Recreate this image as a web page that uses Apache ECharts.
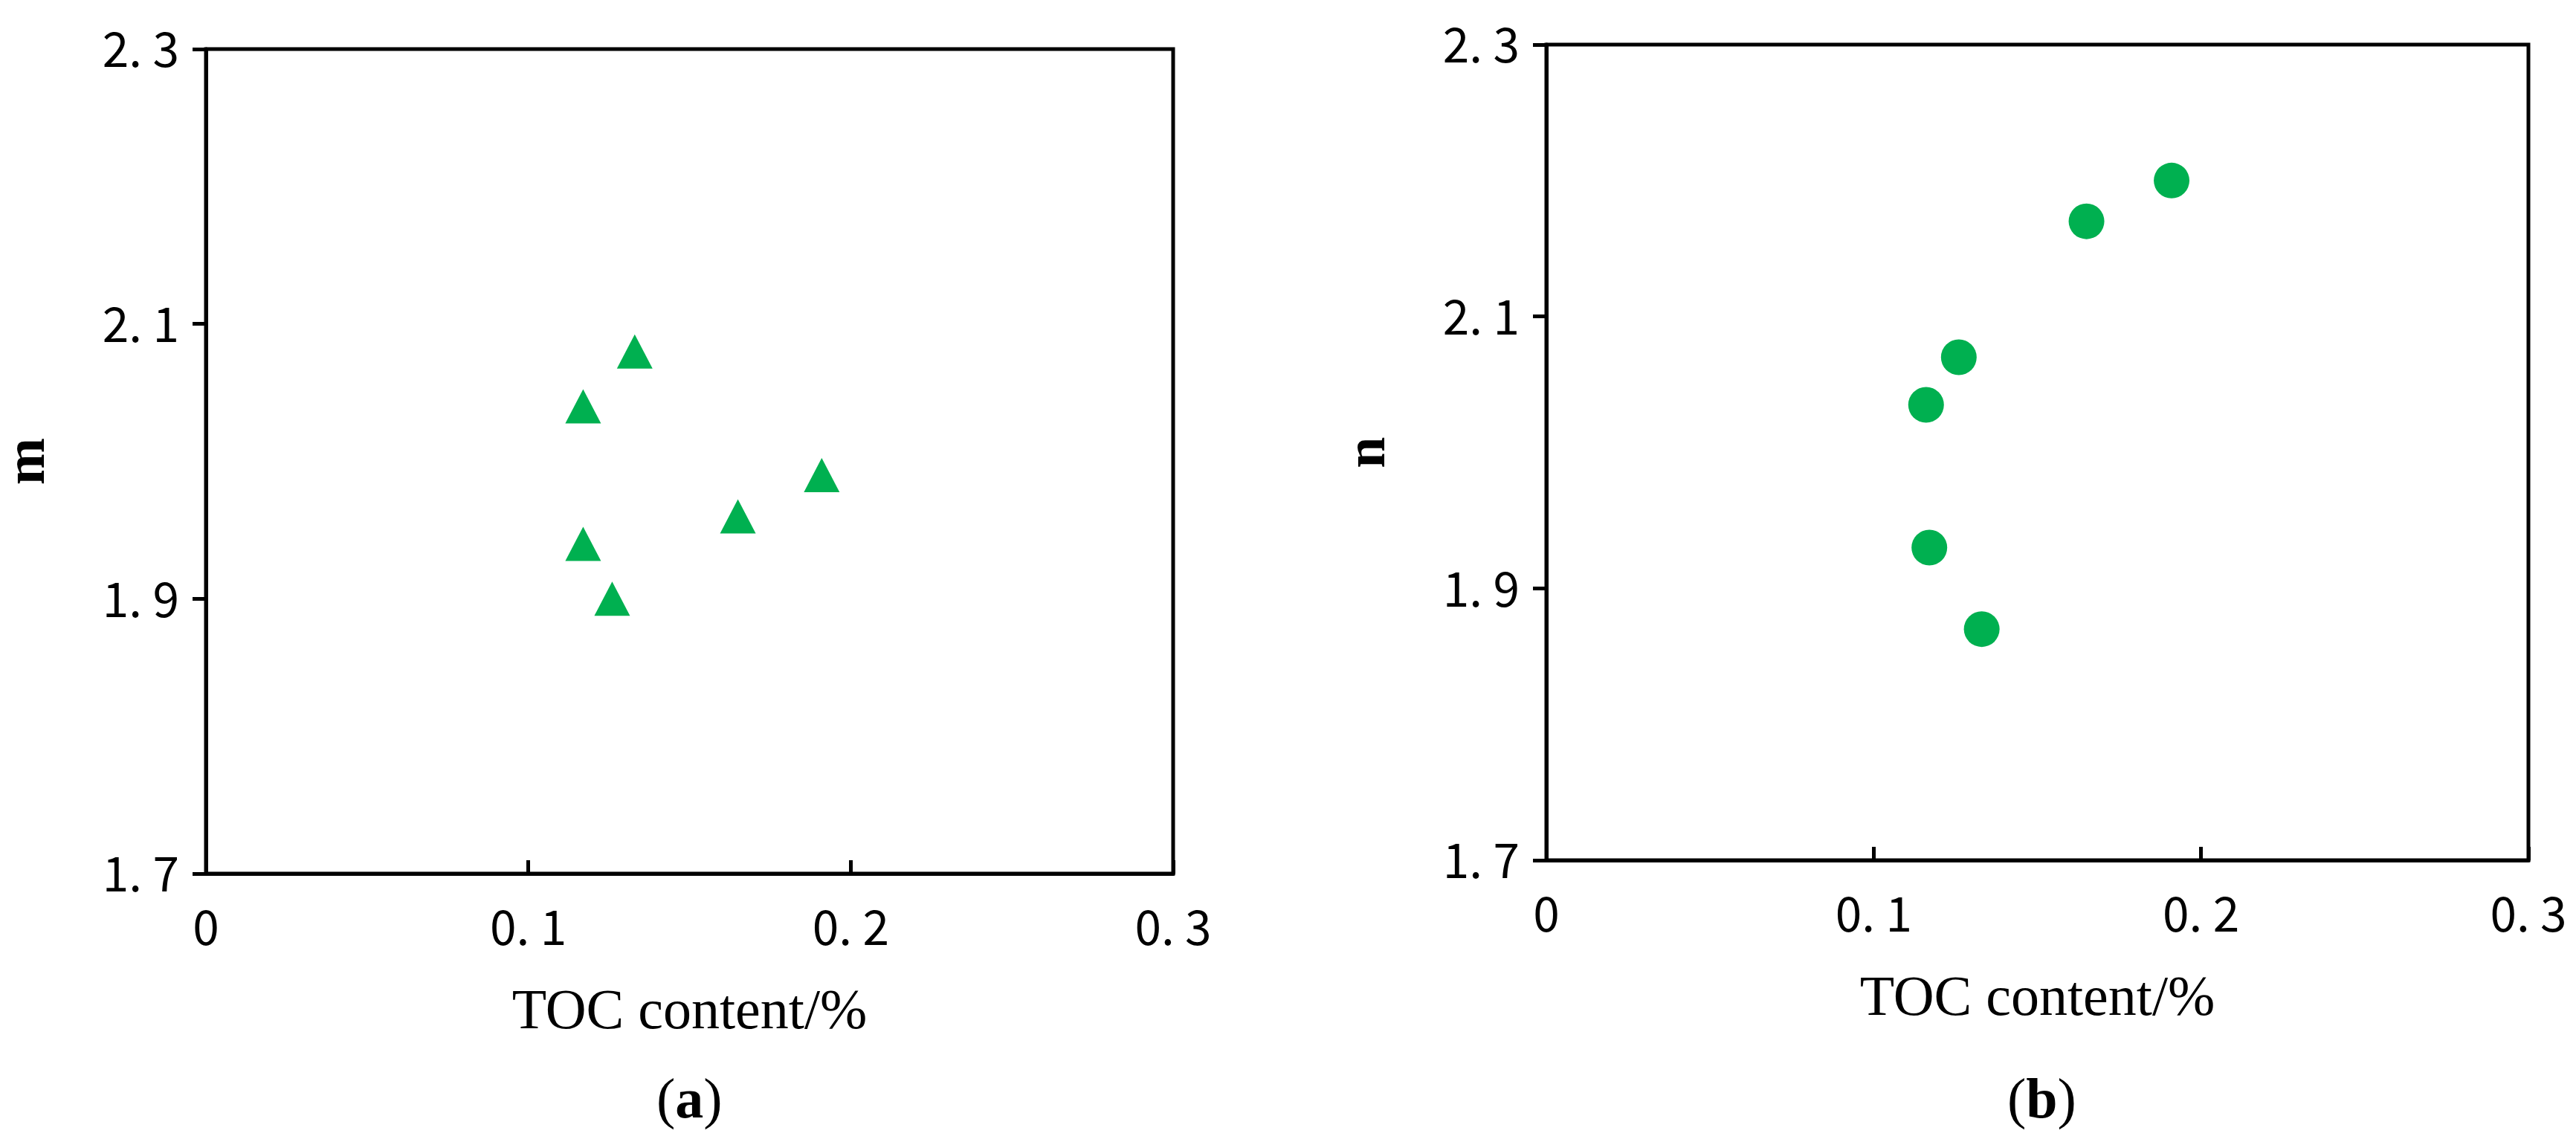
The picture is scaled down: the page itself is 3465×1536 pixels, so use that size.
<!DOCTYPE html>
<html>
<head>
<meta charset="utf-8">
<script src="https://cdn.jsdelivr.net/npm/echarts@6/dist/echarts.min.js"></script>
<style>html,body{margin:0;background:#fff}#c{width:3465px;height:1536px}</style>
</head>
<body>
<div id="c"></div>
<script>
const tocA = [0.117, 0.133, 0.117, 0.126, 0.165, 0.191];
const mVals = [2.04, 2.08, 1.94, 1.90, 1.96, 1.99];
const tocB = [0.191, 0.165, 0.126, 0.116, 0.117, 0.133];
const nVals = [2.20, 2.17, 2.07, 2.035, 1.93, 1.87];
const xTitle = 'TOC content/%';

const chart = echarts.init(document.getElementById('c'));
const tickFont = { fontFamily: 'Noto Sans CJK SC', fontSize: 64, color: '#000' };
const fmt = v => (v === 0 ? '0' : v.toFixed(1).replace('.', '. '));
function xAxis(i) {
  return {
    gridIndex: i, type: 'value', min: 0, max: 0.3, interval: 0.1,
    name: xTitle, nameLocation: 'middle', nameGap: 150,
    nameTextStyle: { fontFamily: 'Liberation Serif', fontSize: 76, color: '#000' },
    axisLine: { lineStyle: { color: '#000', width: 5 } },
    axisTick: { inside: true, length: 18, lineStyle: { color: '#000', width: 5 } },
    axisLabel: Object.assign({ margin: 40, formatter: fmt }, tickFont),
    splitLine: { show: false }
  };
}
function yAxis(i, name) {
  return {
    gridIndex: i, type: 'value', min: 1.7, max: 2.3, interval: 0.2,
    name: name, nameLocation: 'middle', nameGap: 200, nameRotate: 90,
    nameTextStyle: { fontFamily: 'Liberation Serif', fontWeight: 'bold', fontSize: 76, color: '#000' },
    axisLine: { lineStyle: { color: '#000', width: 5 } },
    axisTick: { length: 18, lineStyle: { color: '#000', width: 5 } },
    axisLabel: Object.assign({ margin: 36, formatter: v => v.toFixed(1).replace('.', '. ') }, tickFont),
    splitLine: { show: false }
  };
}
const zip = (xs, ys) => xs.map((x, i) => [x, ys[i]]);
const capStyle = { fontFamily: 'Liberation Serif', fontSize: 76, fontWeight: 'normal', color: '#000',
  rich: { b: { fontFamily: 'Liberation Serif', fontSize: 76, fontWeight: 'bold', color: '#000' } } };
chart.setOption({
  animation: false,
  grid: [
    { left: 266, top: 66, width: 1312, height: 1109, show: true, borderColor: '#000', borderWidth: 5 },
    { left: 2080, top: 60, width: 1321, height: 1097, show: true, borderColor: '#000', borderWidth: 5 }
  ],
  title: [
    { text: '({b|a})', left: 878, top: 1440, textStyle: capStyle },
    { text: '({b|b})', left: 2695, top: 1440, textStyle: capStyle }
  ],
  xAxis: [xAxis(0), xAxis(1)],
  yAxis: [yAxis(0, 'm'), yAxis(1, 'n')],
  series: [
    { type: 'scatter', xAxisIndex: 0, yAxisIndex: 0, symbol: 'triangle', symbolSize: [48, 46],
      itemStyle: { color: '#00B050', opacity: 1 }, data: zip(tocA, mVals) },
    { type: 'scatter', xAxisIndex: 1, yAxisIndex: 1, symbol: 'circle', symbolSize: 48,
      itemStyle: { color: '#00B050', opacity: 1 }, data: zip(tocB, nVals) }
  ]
});
</script>
</body>
</html>
